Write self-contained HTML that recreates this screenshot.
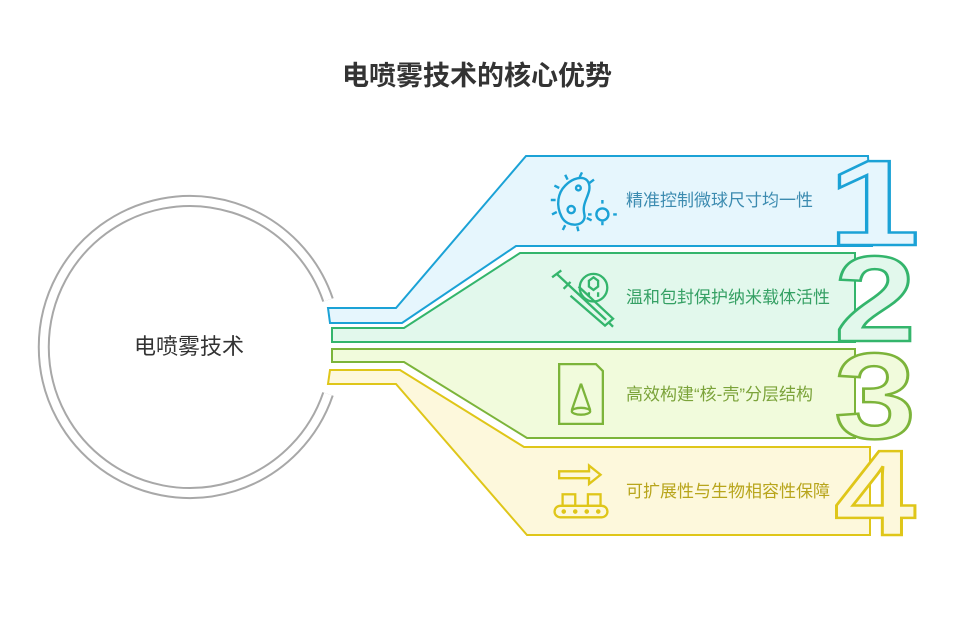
<!DOCTYPE html>
<html><head><meta charset="utf-8"><style>
body{margin:0;background:#fff;}
svg{display:block;font-family:"Liberation Sans","Noto Sans CJK SC",sans-serif;}
</style></head><body>
<svg width="955" height="623" viewBox="0 0 955 623">
<text x="477" y="85" text-anchor="middle" font-size="27" font-weight="bold" fill="#333">电喷雾技术的核心优势</text>
<!-- circle ring -->
<path d="M328,300 A146,146 0 1 0 328,394" fill="none" stroke="#a8a8a8" stroke-width="12"/>
<path d="M328,300 A146,146 0 1 0 328,394" fill="none" stroke="#fff" stroke-width="8"/>
<text x="189" y="354" text-anchor="middle" font-size="22" fill="#333">电喷雾技术</text>

<!-- shape 1 -->
<path d="M526,156 L868,156 L872,246 L516,246 L402,323 L330,323 L328,308 L396,308 Z" fill="#e6f6fd" stroke="#1ba2d6" stroke-width="2"/>
<text transform="translate(874,245) scale(1.35,1)" font-size="122" font-weight="bold" text-anchor="middle" fill="#e6f6fd" stroke="#1ba2d6" stroke-width="2.5">1</text>
<!-- shape 2 -->
<path d="M520,253 L855,253 L855,342 L332,342 L332,328 L404,328 Z" fill="#e2f8ec" stroke="#34b56c" stroke-width="2"/>
<text transform="translate(875,341) scale(1.2,1)" font-size="122" font-weight="bold" text-anchor="middle" fill="#e2f8ec" stroke="#34b56c" stroke-width="2.5">2</text>
<!-- shape 3 -->
<path d="M332,349 L855,349 L855,438 L527,438 L404,362 L332,362 Z" fill="#f1fbdc" stroke="#7cb43a" stroke-width="2"/>
<text transform="translate(875,438) scale(1.2,1)" font-size="122" font-weight="bold" text-anchor="middle" fill="#f1fbdc" stroke="#7cb43a" stroke-width="2.5">3</text>
<!-- shape 4 -->
<path d="M330,370 L400,370 L524,447 L870,447 L870,535 L527,535 L396,384 L328,384 Z" fill="#fdf8dc" stroke="#dfc619" stroke-width="2"/>
<text transform="translate(875,535) scale(1.2,1)" font-size="122" font-weight="bold" text-anchor="middle" fill="#fdf8dc" stroke="#dfc619" stroke-width="2.5">4</text>

<g font-size="17">
<text x="626" y="206" fill="#3c8bb0">精准控制微球尺寸均一性</text>
<text x="626" y="303" fill="#35a064">温和包封保护纳米载体活性</text>
<text x="626" y="400" fill="#7ba33a">高效构建“核-壳”分层结构</text>
<text x="626" y="497" fill="#b8a51c">可扩展性与生物相容性保障</text>
</g>

<!-- icon 1 bacteria -->
<g fill="none" stroke="#1ba2d6" stroke-width="2" transform="translate(582,200) scale(1.2) translate(-582,-200)">
<path d="M568,188 C578,178 590,180 588,192 C586,200 582,204 584,212 C586,222 570,224 565,214 C560,204 562,194 568,188 Z"/>
<circle cx="579" cy="190" r="2"/><circle cx="573" cy="208" r="3"/>
<circle cx="599" cy="212" r="5"/>
<path d="M563,190 l-4,-2 M560,200 l-4,0 M561,210 l-4,2 M568,221 l-2,4 M578,222 l1,4 M586,215 l4,2 M588,186 l4,-3 M580,181 l2,-4 M570,183 l-2,-4 M599,203 v-3 M599,221 v-3 M590,212 h-3 M608,212 h3"/>
</g>
<!-- icon 2 syringe -->
<g fill="none" stroke="#34b56c" stroke-width="2" transform="translate(582,298) scale(1.15) translate(-582,-298)">
<circle cx="592" cy="289" r="12"/>
<path d="M588,283 l4,-3 l4,3 v5 l-4,3 l-4,-3 Z M588,293 v4 M596,293 v4"/>
<path d="M556,280 l8,-6 M560,277 l43,40 M566,290 l6,-6 M572,296 l30,26 l7,-6 l-30,-28 M605,319 l4,4"/>
</g>
<!-- icon 3 doc cone -->
<g fill="none" stroke="#7cb43a" stroke-width="2" transform="translate(581,394) scale(1.15) translate(-581,-394)">
<path d="M562,368 h32 l6,6 v46 h-38 Z"/>
<path d="M581,385 l-8,23 M581,385 l8,23"/><ellipse cx="581" cy="409" rx="8" ry="3"/>
</g>
<!-- icon 4 conveyor -->
<g fill="none" stroke="#dfc619" stroke-width="2" transform="translate(581,492) scale(1.15) translate(-581,-492)">
<path d="M562,474 h26 v-5 l10,8 l-10,8 v-5 h-26 Z"/>
<rect x="565" y="494" width="11" height="10"/><rect x="587" y="494" width="11" height="10"/>
<rect x="558" y="504" width="46" height="10" rx="5"/>
<circle cx="566" cy="509" r="1"/><circle cx="576" cy="509" r="1"/><circle cx="586" cy="509" r="1"/><circle cx="596" cy="509" r="1"/>
</g>
</svg>
</body></html>
